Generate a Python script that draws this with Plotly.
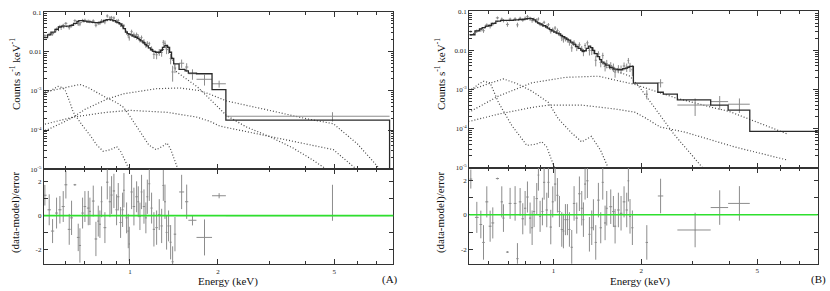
import numpy as np
import plotly.graph_objects as go

# ===================== Panel (A) =====================
a_e = [0.5115, 0.5293, 0.5435, 0.5609, 0.5758, 0.5911, 0.6036, 0.6197, 0.6313, 0.6481,
       0.6653, 0.6742, 0.6885, 0.7013, 0.7200, 0.7295, 0.7490, 0.7648, 0.7791, 0.7893,
       0.7998, 0.8211, 0.8364, 0.8542, 0.8654, 0.8814, 0.9000, 0.9120, 0.9290, 0.9438,
       0.9539, 0.9741, 0.9869, 0.9947, 1.0132, 1.032, 1.054, 1.068, 1.082, 1.096,
       1.117, 1.134, 1.147, 1.165, 1.186, 1.208, 1.234, 1.260, 1.284, 1.301,
       1.318, 1.335, 1.356, 1.378, 1.400, 1.426, 1.503, 1.564, 1.637, 1.80,
       2.02, 4.935]
a_hw = [0.007, 0.007, 0.007, 0.007, 0.007, 0.007, 0.007, 0.007, 0.007, 0.007,
        0.007, 0.006, 0.007, 0.007, 0.008, 0.006, 0.008, 0.008, 0.006, 0.006,
        0.006, 0.009, 0.008, 0.008, 0.007, 0.008, 0.008, 0.008, 0.008, 0.008,
        0.006, 0.009, 0.007, 0.005, 0.009, 0.010, 0.010, 0.008, 0.008, 0.008,
        0.010, 0.009, 0.008, 0.009, 0.010, 0.011, 0.012, 0.012, 0.011, 0.009,
        0.009, 0.010, 0.011, 0.011, 0.012, 0.014, 0.030, 0.020, 0.052, 0.11,
        0.11, 2.805]
a_cts = [0.0251, 0.0272, 0.0281, 0.0368, 0.0431, 0.0460, 0.0516, 0.0402, 0.0451, 0.0605,
         0.0502, 0.0498, 0.0612, 0.0620, 0.0587, 0.0576, 0.0597, 0.0464, 0.0520, 0.0523,
         0.0607, 0.0565, 0.0797, 0.0709, 0.0722, 0.0707, 0.0585, 0.0608, 0.0477, 0.0465,
         0.0447, 0.0304, 0.0252, 0.0221, 0.0317, 0.0264, 0.0267, 0.0240, 0.0199, 0.0225,
         0.0179, 0.0145, 0.0161, 0.0157, 0.0117, 0.0084, 0.0082, 0.0096, 0.0094, 0.0170,
         0.0160, 0.0113, 0.0111, 0.0066, 0.0030, 0.0038, 0.0050, 0.0040, 0.0027, 0.00195,
         0.0015, 2.24e-4]
a_cerr = [0.0022, 0.0026, 0.0031, 0.0036, 0.0042, 0.0044, 0.0044, 0.0044, 0.0046, 0.0051,
          0.0058, 0.0060, 0.0060, 0.0059, 0.0056, 0.0056, 0.0055, 0.0054, 0.0054, 0.0055,
          0.0056, 0.0074, 0.0078, 0.0078, 0.0076, 0.0072, 0.0067, 0.0064, 0.0060, 0.0054,
          0.0046, 0.0037, 0.0034, 0.0033, 0.0039, 0.0037, 0.0034, 0.0032, 0.0030, 0.0028,
          0.0025, 0.0022, 0.0021, 0.0018, 0.0017, 0.0020, 0.0019, 0.0019, 0.0021, 0.0025,
          0.0028, 0.0028, 0.0025, 0.0019, 0.0013, 0.0010, 0.0012, 0.0010, 0.0008, 0.0006,
          0.0003, 0.6e-4]
a_res = [1.19, 0.34, -0.9, 0.15, 0.34, 0.53, 1.8, -0.8, -0.13, 1.8,
         -1.27, -1.74, 0.15, 0.53, 0.44, 0.25, 0.85, -1.36, -0.32, -0.5,
         0.81, -0.7, 1.95, 0.81, 1.2, 1.44, 0.34, 1.1, -0.4, 0.34,
         1.48, -0.13, -0.9, -1.65, 1.38, 0.53, 1.1, 0.81, -0.04, 1.38,
         0.53, -0.13, 1.1, 1.86, 0.44, -0.8, -0.7, 0.06, -0.6, 1.76,
         0.81, -0.98, -0.6, -1.55, -2.69, -1.08, 1.38, 0.81, -0.27, -1.27,
         1.16, 0.0]
a_rerr = [0.6, 0.9, 0.7, 0.9, 0.8, 0.9, 0.8, 0.9, 1.0, 0.05,
          0.8, 1.0, 0.9, 0.9, 1.0, 0.8, 0.9, 1.0, 0.9, 0.8,
          0.9, 0.9, 1.0, 0.9, 1.1, 1.0, 0.9, 0.8, 0.9, 1.0,
          1.0, 0.9, 1.0, 1.0, 1.0, 1.1, 0.9, 0.9, 0.8, 1.0,
          1.0, 0.9, 1.0, 1.0, 0.9, 1.0, 1.0, 0.9, 1.0, 0.9,
          1.0, 1.0, 0.9, 1.0, 0.9, 1.0, 1.0, 1.0, 0.3, 1.05,
          0.15, 1.8]
a_rerr_dn = a_rerr[:-1] + [0.3]

# model (fine bins follow the data bins, then coarse bins)
a_mod_fine = [0.0224, 0.0263, 0.0309, 0.0363, 0.0417, 0.0437, 0.0437, 0.0437, 0.0457, 0.0513,
              0.0575, 0.0603, 0.0603, 0.0589, 0.0562, 0.0562, 0.0550, 0.0537, 0.0537, 0.0550,
              0.0562, 0.0617, 0.0646, 0.0646, 0.0631, 0.0603, 0.0562, 0.0537, 0.0501, 0.0447,
              0.0380, 0.0309, 0.0282, 0.0275, 0.0263, 0.0245, 0.0229, 0.0214, 0.0200, 0.0186,
              0.0166, 0.0148, 0.0138, 0.0123, 0.0110, 0.0100, 0.0095, 0.0095, 0.0107, 0.0126,
              0.0138, 0.0141, 0.0126, 0.0095, 0.0066, 0.0048, 0.0035, 0.0032]
a_mod_edges = [1.585, 1.69, 1.91, 2.13, 7.74]
a_mod_coarse = [0.0028, 0.0027, 0.00107, 1.78e-4, 1e-9]

# model components (log10 of counts s^-1 keV^-1)
a_c1_e = [0.50, 0.519, 0.545, 0.568, 0.585, 0.599, 0.62, 0.64, 0.69, 0.73, 0.77, 0.81, 0.86, 0.90, 0.93, 0.987, 1.0]
a_c1 = [-3.12, -3.05, -2.95, -2.89, -2.92, -2.97, -3.25, -3.55, -3.90, -4.13, -4.38, -4.54, -4.50, -4.42, -4.55, -4.95, -5.1]
a_c2_e = [0.50, 0.55, 0.60, 0.674, 0.72, 0.78, 0.83, 0.90, 0.95, 1.00, 1.08, 1.16, 1.23, 1.29, 1.34, 1.38, 1.46, 1.50]
a_c2 = [-3.05, -2.98, -2.92, -2.84, -2.92, -3.06, -3.18, -3.30, -3.42, -3.65, -4.04, -4.38, -4.50, -4.42, -4.33, -4.50, -5.0, -5.2]
a_c3_e = [0.50, 0.52, 0.60, 0.64, 0.70, 0.83, 0.95, 1.08, 1.23, 1.48, 1.74, 1.88, 2.14, 3.0, 4.0, 4.97, 6.0, 7.18, 7.5]
a_c3 = [-4.02, -4.0, -3.78, -3.67, -3.48, -3.22, -3.08, -3.01, -2.95, -2.93, -3.0, -3.09, -3.26, -3.50, -3.71, -3.84, -4.35, -5.0, -5.2]
a_c4_e = [0.50, 0.52, 0.64, 0.83, 1.0, 1.34, 1.69, 1.88, 2.03, 3.01, 4.0, 4.97, 5.97, 6.3]
a_c4 = [-3.86, -3.84, -3.67, -3.55, -3.50, -3.55, -3.67, -3.78, -3.90, -4.17, -4.36, -4.50, -5.0, -5.2]
a_c5_e = [0.50, 0.55, 0.60, 0.65, 0.70, 0.75, 0.80, 0.85, 0.90, 0.95, 1.0, 1.1, 1.2, 1.25, 1.33, 1.38,
          1.44, 1.52, 1.7, 1.83, 2.03, 2.14, 2.5, 3.01, 3.6, 4.2, 4.71, 5.0]
a_c5 = [-1.68, -1.52, -1.38, -1.30, -1.24, -1.27, -1.27, -1.20, -1.26, -1.40, -1.58, -1.76, -2.0, -2.06, -1.90, -2.05,
        -2.51, -2.64, -2.90, -3.13, -3.46, -3.63, -3.92, -4.17, -4.45, -4.75, -5.0, -5.2]

# ===================== Panel (B) =====================
b_e = [0.5212, 0.5465, 0.5641, 0.5760, 0.5913, 0.6070, 0.6199, 0.6431, 0.6655, 0.6743,
       0.6959, 0.7106, 0.7392, 0.7530, 0.7691, 0.7854, 0.8000, 0.8149, 0.8321, 0.8454,
       0.8588, 0.8770, 0.8886, 0.9004, 0.9171, 0.9294, 0.9491, 0.9616, 0.9795, 0.9950,
       1.0135, 1.0323, 1.0488, 1.0683, 1.0824, 1.0995, 1.1170, 1.1347, 1.1558, 1.1773,
       1.2023, 1.2278, 1.2508, 1.2673, 1.2841, 1.3078, 1.3287, 1.3534, 1.3713, 1.3968,
       1.4264, 1.4530, 1.4763, 1.5037, 1.5236, 1.5724, 1.6057, 1.6270, 1.6701, 1.7056,
       1.7465, 1.7838, 1.8072, 1.8306, 1.8650, 2.09, 2.33, 3.06, 3.715, 4.34]
b_hw = [0.006, 0.008, 0.006, 0.006, 0.007, 0.007, 0.007, 0.008, 0.006, 0.006,
        0.008, 0.008, 0.008, 0.007, 0.008, 0.008, 0.007, 0.008, 0.007, 0.007,
        0.007, 0.008, 0.006, 0.007, 0.007, 0.008, 0.009, 0.008, 0.009, 0.008,
        0.009, 0.009, 0.009, 0.009, 0.008, 0.009, 0.009, 0.010, 0.010, 0.011,
        0.012, 0.012, 0.010, 0.009, 0.010, 0.012, 0.011, 0.012, 0.011, 0.012,
        0.014, 0.013, 0.012, 0.013, 0.012, 0.018, 0.016, 0.015, 0.018, 0.018,
        0.018, 0.016, 0.012, 0.012, 0.016, 0.02, 0.05, 0.40, 0.255, 0.37]
b_cts = [0.0303, 0.0311, 0.0335, 0.0319, 0.0448, 0.0408, 0.0467, 0.0680, 0.0633, 0.0578,
         0.0462, 0.0628, 0.0643, 0.0450, 0.0663, 0.0603, 0.0660, 0.0726, 0.0646, 0.0588,
         0.0617, 0.0598, 0.0639, 0.0474, 0.0457, 0.0523, 0.0411, 0.0456, 0.0310, 0.0344,
         0.0374, 0.0322, 0.0270, 0.0209, 0.0192, 0.0200, 0.0187, 0.0159, 0.0116, 0.0159,
         0.0121, 0.0139, 0.0110, 0.0090, 0.0133, 0.0156, 0.0100, 0.0099, 0.0100, 0.0056,
         0.0081, 0.0049, 0.0074, 0.0040, 0.0046, 0.0041, 0.0037, 0.0028, 0.0034, 0.0033,
         0.0040, 0.0037, 0.0055, 0.0038, 0.0032, 7.6e-4, 1.48e-3, 4.0e-4, 4.9e-4, 4.2e-4]
b_cerr = [0.0025, 0.0032, 0.0036, 0.0038, 0.0042, 0.0044, 0.0049, 0.0056, 0.0059, 0.0059,
          0.0059, 0.0059, 0.0060, 0.0060, 0.0062, 0.0062, 0.0076, 0.0078, 0.0079, 0.0078,
          0.0072, 0.0064, 0.0060, 0.0057, 0.0054, 0.0051, 0.0048, 0.0045, 0.0041, 0.0038,
          0.0044, 0.0041, 0.0039, 0.0036, 0.0034, 0.0031, 0.0029, 0.0027, 0.0024, 0.0022,
          0.0025, 0.0022, 0.0020, 0.0019, 0.0020, 0.0022, 0.0026, 0.0023, 0.0020, 0.0017,
          0.0014, 0.0012, 0.0013, 0.0011, 0.0011, 0.0009, 0.0009, 0.0008, 0.0008, 0.0008,
          0.0009, 0.0009, 0.0009, 0.0010, 0.0010, 2.0e-4, 3.5e-4, 1.9e-4, 1.9e-4, 1.7e-4]
b_res = [2.07, -0.15, -0.56, -1.6, 0.75, -0.66, -0.47, 2.1, 0.75, -0.19,
         -2.16, 0.66, 0.66, -2.54, 0.75, -0.23, 0.38, 1.03, -0.19, -0.75,
         0.19, 0.94, 2.3, -0.09, 0.19, 1.88, 0.28, 1.88, -0.71, 0.75,
         1.78, 1.13, 0.19, -0.85, -0.94, -0.28, -0.28, -0.85, -1.88, 0.66,
         -0.19, 1.22, 0.38, -0.28, 1.78, 1.97, -1.13, -0.75, 0.0, -1.6,
         0.85, -0.75, 1.88, -0.47, 0.38, 0.47, 0.19, -0.66, 0.28, 0.09,
         0.75, 0.28, 1.97, -0.09, -0.75, -1.6, 1.09, -0.88, 0.42, 0.66]
b_rerr = [0.55, 0.9, 0.8, 1.0, 0.9, 0.9, 0.9, 0.05, 0.9, 0.8,
          0.05, 0.9, 1.0, 0.9, 0.8, 0.9, 1.0, 0.9, 0.9, 1.0,
          0.9, 0.9, 0.9, 0.9, 0.8, 1.0, 1.0, 0.9, 1.0, 0.9,
          1.0, 1.0, 0.9, 1.0, 1.0, 0.9, 0.9, 1.0, 1.0, 1.0,
          0.9, 1.0, 1.0, 1.0, 0.9, 1.0, 1.0, 1.0, 0.9, 1.0,
          1.0, 0.9, 1.0, 1.0, 1.0, 1.0, 0.9, 1.0, 1.0, 1.0,
          0.9, 1.0, 1.2, 1.0, 1.0, 1.0, 1.0, 1.0, 1.0, 1.0]

b_mod_fine = [0.0251, 0.0316, 0.0355, 0.0380, 0.0417, 0.0437, 0.0490, 0.0562, 0.0589, 0.0589,
              0.0589, 0.0589, 0.0603, 0.0603, 0.0617, 0.0617, 0.0631, 0.0646, 0.0661, 0.0646,
              0.0603, 0.0537, 0.0501, 0.0479, 0.0447, 0.0427, 0.0398, 0.0372, 0.0339, 0.0316,
              0.0295, 0.0275, 0.0263, 0.0240, 0.0224, 0.0209, 0.0195, 0.0182, 0.0162, 0.0145,
              0.0126, 0.0112, 0.0102, 0.0095, 0.0098, 0.0112, 0.0129, 0.0117, 0.0100, 0.0083,
              0.0069, 0.0058, 0.0050, 0.0045, 0.0042, 0.0037, 0.0035, 0.0033, 0.0032, 0.0032,
              0.0034, 0.0035, 0.0037, 0.0039, 0.0039]
b_mod_edges = [1.88, 2.28, 2.38, 2.66, 3.46, 3.97, 4.71, 8.3]
b_mod_coarse = [1.45e-3, 8.5e-4, 7.6e-4, 5.4e-4, 4.0e-4, 2.95e-4, 8.5e-5, 8.5e-5]

b_c1_e = [0.50, 0.526, 0.55, 0.576, 0.607, 0.648, 0.72, 0.811, 0.87, 0.913, 0.949, 1.0, 1.02]
b_c1 = [-3.08, -3.0, -2.88, -2.79, -2.83, -3.33, -3.92, -4.43, -4.40, -4.34, -4.47, -4.97, -5.1]
b_c2_e = [0.50, 0.55, 0.60, 0.674, 0.75, 0.843, 0.961, 1.04, 1.15, 1.25, 1.35, 1.45, 1.54, 1.57]
b_c2 = [-3.02, -2.95, -2.85, -2.73, -2.85, -3.04, -3.33, -3.75, -4.10, -4.34, -4.20, -4.55, -5.0, -5.1]
b_c3_e = [0.50, 0.526, 0.648, 0.75, 0.843, 1.1, 1.43, 1.63, 1.9, 2.29, 2.66, 3.5, 4.0, 4.77, 6.3]
b_c3 = [-3.60, -3.54, -3.17, -2.97, -2.83, -2.69, -2.66, -2.76, -2.87, -3.07, -3.23, -3.46, -3.56, -3.78, -4.13]
b_c4_e = [0.50, 0.526, 0.648, 0.843, 0.961, 1.25, 1.43, 1.63, 1.9, 2.06, 2.32, 2.82, 4.18, 6.3]
b_c4 = [-3.83, -3.80, -3.63, -3.46, -3.40, -3.40, -3.45, -3.50, -3.58, -3.72, -3.96, -4.09, -4.47, -4.80]
b_c5_e = [0.50, 0.55, 0.60, 0.65, 0.70, 0.80, 0.85, 0.90, 1.0, 1.1, 1.2, 1.27, 1.34, 1.4, 1.5, 1.7,
          1.83, 1.9, 2.0, 2.26, 2.58, 3.22, 3.3]
b_c5 = [-1.70, -1.50, -1.37, -1.25, -1.24, -1.21, -1.19, -1.33, -1.52, -1.70, -1.92, -2.04, -1.90, -2.08, -2.42, -2.58,
        -2.66, -2.80, -3.0, -3.54, -4.13, -4.97, -5.1]

# axis ranges (keV)
a_xrange = [0.508, 7.97]
b_xrange = [0.515, 8.05]

# ===================== styling =====================
W, H = 830, 291
FONT = "Liberation Serif"
AX = "#333333"
DATA_C = "#8c8c8c"
MODEL_C = "#2a2a2a"
COMP_C = "#4a4a4a"
GREEN = "#2ee02e"

fig = go.Figure()


def px_x(p):
    return p / W


def px_y(p):
    return 1 - p / H


panels = {
    "A": dict(xd=[px_x(44), px_x(393.3)], top=[px_y(170), px_y(8.3)], bot=[px_y(267.7), px_y(170)],
              xr=a_xrange, rr=[-2.84, 2.70], ax=("x", "y", "x2", "y2")),
    "B": dict(xd=[px_x(469.3), px_x(817.7)], top=[px_y(168.3), px_y(7.5)], bot=[px_y(267), px_y(168.3)],
              xr=b_xrange, rr=[-2.83, 2.73], ax=("x3", "y3", "x4", "y4")),
}


def add_panel(key, e, hw, cts, cerr, res, rerr, rerr_dn, mod_fine, mod_edges, mod_coarse, comps):
    p = panels[key]
    xt, yt, xb, yb = p["ax"]
    nf = len(mod_fine)
    # model step line: left edges of fine bins, then coarse bin edges
    mx = [c - h for c, h in zip(e[:nf], hw[:nf])] + list(mod_edges)
    my = list(mod_fine) + list(mod_coarse)
    # components
    for ce, cv in comps:
        fig.add_trace(go.Scatter(x=ce, y=np.power(10.0, cv), mode="lines", xaxis=xt, yaxis=yt,
                                 line=dict(color=COMP_C, width=1.2, dash="1px,2px"), showlegend=False,
                                 hoverinfo="skip"))
    # data
    fig.add_trace(go.Scatter(x=e, y=cts, mode="markers", xaxis=xt, yaxis=yt,
                             marker=dict(size=1, color=DATA_C),
                             error_x=dict(type="data", array=hw, color=DATA_C, thickness=1, width=0),
                             error_y=dict(type="data", array=cerr, color=DATA_C, thickness=1, width=0),
                             showlegend=False))
    fig.add_trace(go.Scatter(x=mx, y=my, mode="lines", line_shape="hv", xaxis=xt, yaxis=yt,
                             line=dict(color=MODEL_C, width=1.3), showlegend=False))
    # residuals
    fig.add_trace(go.Scatter(x=e, y=res, mode="markers", xaxis=xb, yaxis=yb,
                             marker=dict(size=1, color=DATA_C),
                             error_x=dict(type="data", array=hw, color=DATA_C, thickness=1, width=0),
                             error_y=dict(type="data", array=rerr, arrayminus=rerr_dn, color=DATA_C,
                                          thickness=1, width=0),
                             showlegend=False))
    fig.add_shape(type="line", xref=f"{xb} domain", x0=0, x1=1, yref=yb, y0=0, y1=0,
                  line=dict(color=GREEN, width=1.6))


add_panel("A", a_e, a_hw, a_cts, a_cerr, a_res, a_rerr, a_rerr_dn, a_mod_fine, a_mod_edges, a_mod_coarse,
          [(a_c1_e, a_c1), (a_c2_e, a_c2), (a_c3_e, a_c3), (a_c4_e, a_c4), (a_c5_e, a_c5)])
add_panel("B", b_e, b_hw, b_cts, b_cerr, b_res, b_rerr, b_rerr, b_mod_fine, b_mod_edges, b_mod_coarse,
          [(b_c1_e, b_c1), (b_c2_e, b_c2), (b_c3_e, b_c3), (b_c4_e, b_c4), (b_c5_e, b_c5)])

tickfont = dict(family=FONT, size=7, color="#222")
x_major = [1, 2, 5]
x_minor = [0.6, 0.7, 0.8, 0.9, 3, 4, 6, 7, 8]
y_major = [1e-5, 1e-4, 1e-3, 0.01, 0.1]
y_major_txt = ["10<sup>-5</sup>", "10<sup>-4</sup>", "10<sup>-3</sup>", "0.01", "0.1"]
y_minor = [k * 10.0 ** p for p in range(-5, -1) for k in range(2, 10)]
r_major = [-2, 0, 2]
r_major_txt = ["-2", "0", "2"]
r_minor = [-1, 1]

common = dict(showline=True, linecolor=AX, linewidth=1.3, mirror="ticks", ticks="inside",
              tickcolor=AX, tickwidth=1, showgrid=False, zeroline=False, tickfont=tickfont)

layout = dict(width=W, height=H, margin=dict(l=0, r=0, t=0, b=0), paper_bgcolor="white",
              plot_bgcolor="white", showlegend=False)

for key in ("A", "B"):
    p = panels[key]
    xt, yt, xb, yb = p["ax"]
    xr = [np.log10(p["xr"][0]), np.log10(p["xr"][1])]
    xn_t = "xaxis" + xt[1:]
    yn_t = "yaxis" + yt[1:]
    xn_b = "xaxis" + xb[1:]
    yn_b = "yaxis" + yb[1:]
    layout[xn_t] = dict(common, type="log", range=xr, domain=p["xd"], anchor=yt,
                        tickmode="array", tickvals=x_major, showticklabels=False, ticklen=5,
                        minor=dict(tickmode="array", tickvals=x_minor, ticks="inside", ticklen=3,
                                   tickcolor=AX))
    layout[yn_t] = dict(common, type="log", range=[-5, -1], domain=p["top"], anchor=xt,
                        tickmode="array", tickvals=y_major, ticktext=y_major_txt, ticklen=5,
                        minor=dict(tickmode="array", tickvals=y_minor, ticks="inside", ticklen=2.5,
                                   tickcolor=AX))
    layout[xn_b] = dict(common, type="log", range=xr, domain=p["xd"], anchor=yb,
                        tickmode="array", tickvals=x_major, ticktext=["1", "2", "5"], ticklen=5,
                        minor=dict(tickmode="array", tickvals=x_minor, ticks="inside", ticklen=3,
                                   tickcolor=AX))
    layout[yn_b] = dict(common, range=p["rr"], domain=p["bot"], anchor=xb,
                        tickmode="array", tickvals=r_major, ticktext=r_major_txt, ticklen=4,
                        minor=dict(tickmode="array", tickvals=r_minor, ticks="inside", ticklen=4,
                                   tickcolor=AX))

fig.update_layout(**layout)

titlefont = dict(family=FONT, size=11, color="#111")
ann = [
    dict(x=px_x(15), y=px_y(72), text="Counts s<sup>-1</sup> keV<sup>-1</sup>", textangle=-90),
    dict(x=px_x(15), y=px_y(214), text="(data-model)/error", textangle=-90),
    dict(x=px_x(228), y=px_y(285.5), text="Energy (keV)"),
    dict(x=px_x(390), y=px_y(283), text="(A)"),
    dict(x=px_x(440), y=px_y(72), text="Counts s<sup>-1</sup> keV<sup>-1</sup>", textangle=-90),
    dict(x=px_x(440), y=px_y(214), text="(data-model)/error", textangle=-90),
    dict(x=px_x(640), y=px_y(285.5), text="Energy (keV)"),
    dict(x=px_x(818), y=px_y(283), text="(B)"),
]
for a in ann:
    fig.add_annotation(xref="paper", yref="paper", showarrow=False, font=titlefont,
                       xanchor="center", yanchor="middle", **a)

fig.write_html("out.html", config={"displayModeBar": False},
               post_script="document.body.style.margin='0';")
